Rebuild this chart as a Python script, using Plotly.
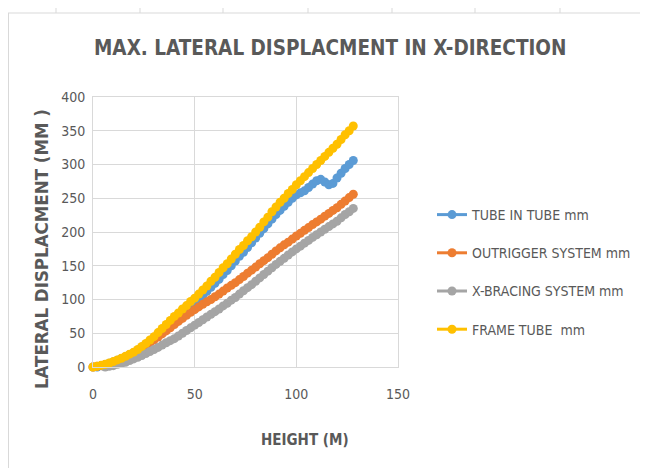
import plotly.graph_objects as go

heights = [0, 2, 4, 6, 8, 10, 12, 14, 16, 18, 20, 22, 24, 26, 28, 30, 32, 34, 36, 38,
           40, 42, 44, 46, 48, 50, 52, 54, 56, 58, 60, 62, 64, 66, 68, 70, 72, 74, 76, 78,
           80, 82, 84, 86, 88, 90, 92, 94, 96, 98, 100, 102, 104, 106, 108, 110, 112, 114,
           116, 118, 120, 122, 124, 126, 128]

tube_in_tube = [-2, 0, 2, 3.5, 5.5, 7.5, 10, 12.5, 15, 18, 21, 25, 29, 33.5, 38, 43, 48, 54, 59, 65,
                70, 75, 80, 85, 90, 95, 100, 106, 112, 118, 124, 130, 137, 143, 150, 157, 164, 170, 177, 184,
                191, 198, 205, 212, 219, 226, 232, 238, 244, 250, 255, 258, 261, 266, 271, 276, 278, 274,
                270, 272, 280, 287, 294, 300, 306]

outrigger = [0, 1, 2, 3.5, 5, 7, 9.5, 12, 15, 18, 21, 24.5, 28, 32, 36, 40, 44.5, 49, 53.5, 58,
             63, 67.5, 72, 76.5, 81, 85, 89, 93, 96.5, 100, 104, 108, 112.5, 117, 121, 125, 129.5, 134, 139, 143.5,
             148, 153, 157.5, 162, 167, 172, 176.5, 181, 185, 189.5, 194, 198, 202.5, 206.5, 211, 215, 219, 223.5,
             227.5, 232, 236, 241, 246, 251, 256]

x_bracing = [0, -1, -1, 0, 1, 2, 4, 5.5, 7, 9.5, 12, 14.5, 17, 20, 23, 26, 29, 32.5, 36, 39,
             42, 46, 50, 54, 58, 62, 66, 70, 74, 78, 82, 86, 90.5, 94.5, 99, 103, 108, 113, 117.5, 122,
             127, 132, 137, 142, 147, 152, 156.5, 161, 166, 170.5, 175, 179, 183.5, 187.5, 192, 196, 200, 204,
             208, 212, 216, 221, 226, 230, 235]

frame_tube = [0, 1, 2.5, 4, 6, 8, 10.5, 13, 16, 19, 22, 26, 30.5, 35, 40, 45, 51, 57, 63, 69,
              75, 80, 86, 91, 97, 102, 108, 114, 120, 127, 133, 140, 147, 153, 160, 167, 174, 180, 187, 193,
              200, 207, 215, 222, 230, 237, 244, 250, 257, 263, 270, 276, 282, 288, 294, 300, 306, 312,
              318, 324, 330, 337, 344, 350, 357]

series_names = ["TUBE IN TUBE mm", "OUTRIGGER SYSTEM mm", "X-BRACING SYSTEM mm", "FRAME TUBE  mm"]
series_values = [tube_in_tube, outrigger, x_bracing, frame_tube]
series_colors = ["#5B9BD5", "#ED7D31", "#A5A5A5", "#FFC000"]

x_ticks = [0, 50, 100, 150]
y_ticks = [0, 50, 100, 150, 200, 250, 300, 350, 400]

FONT = "DejaVu Sans Condensed, Liberation Sans Narrow, Arial Narrow, sans-serif"
TXT = "#595959"
GRID = "#D9D9D9"

# the page body adds an 8px margin; positions below are given in screen pixels
OFF = 8
W, H = 648 - OFF, 468 - OFF
L, R, T, B = 93 - OFF, 398 - OFF, 97 - OFF, 367 - OFF

def px(xs):
    return (xs - OFF - L) / (R - L)

def py(ys):
    return (B - (ys - OFF)) / (B - T)

fig = go.Figure()
for name, vals, col in zip(series_names, series_values, series_colors):
    fig.add_trace(go.Scatter(
        x=heights, y=vals, name=name, mode="lines+markers",
        line=dict(color=col, width=3),
        marker=dict(color=col, size=9),
        legendgroup=name, cliponaxis=False,
    ))

fig.update_layout(
    width=W, height=H,
    margin=dict(l=L, r=W - R, t=T, b=H - B),
    paper_bgcolor="white", plot_bgcolor="white",
    font=dict(family=FONT, color=TXT, size=14),
    showlegend=True,
    legend=dict(x=px(432), y=py(199), xanchor="left", yanchor="top",
                font=dict(family=FONT, size=14, color=TXT),
                tracegroupgap=17, bgcolor="rgba(0,0,0,0)"),
    xaxis=dict(range=[0, 150], tickvals=x_ticks, showgrid=True, gridcolor=GRID, gridwidth=1,
               zeroline=False, showline=True, linecolor=GRID, mirror=True, ticks="",
               ticklabelstandoff=14,
               tickfont=dict(family=FONT, size=14, color=TXT)),
    yaxis=dict(range=[0, 400], tickvals=y_ticks, showgrid=True, gridcolor=GRID, gridwidth=1,
               zeroline=False, showline=True, linecolor=GRID, mirror=True, ticks="",
               ticklabelstandoff=4,
               tickfont=dict(family=FONT, size=14, color=TXT)),
    annotations=[
        dict(text="<b>MAX. LATERAL DISPLACMENT IN X-DIRECTION</b>", xref="paper", yref="paper",
             x=px(330), y=py(48), xanchor="center", yanchor="middle", showarrow=False,
             font=dict(family=FONT, size=20.5, color=TXT)),
        dict(text="<b>HEIGHT (M)</b>", xref="paper", yref="paper",
             x=px(305), y=py(440), xanchor="center", yanchor="middle", showarrow=False,
             font=dict(family=FONT, size=15, color=TXT)),
        dict(text="<b>LATERAL DISPLACMENT (MM )</b>", xref="paper", yref="paper",
             x=px(42), y=py(249), xanchor="center", yanchor="middle", showarrow=False,
             textangle=-90, font=dict(family=FONT, size=18.5, color=TXT)),
    ],
)

# spreadsheet cell frame around the chart
shapes = [
    dict(type="line", xref="paper", yref="paper", x0=px(8), x1=px(648), y0=py(13), y1=py(13),
         line=dict(color=GRID, width=1)),
    dict(type="line", xref="paper", yref="paper", x0=px(8.5), x1=px(8.5), y0=py(13), y1=py(468),
         line=dict(color=GRID, width=1)),
]
for cx in [56, 140, 223, 308, 392, 475, 560]:
    shapes.append(dict(type="line", xref="paper", yref="paper", x0=px(cx), x1=px(cx),
                       y0=py(8), y1=py(13), line=dict(color=GRID, width=1)))
fig.update_layout(shapes=shapes)

fig.write_html("out.html")
